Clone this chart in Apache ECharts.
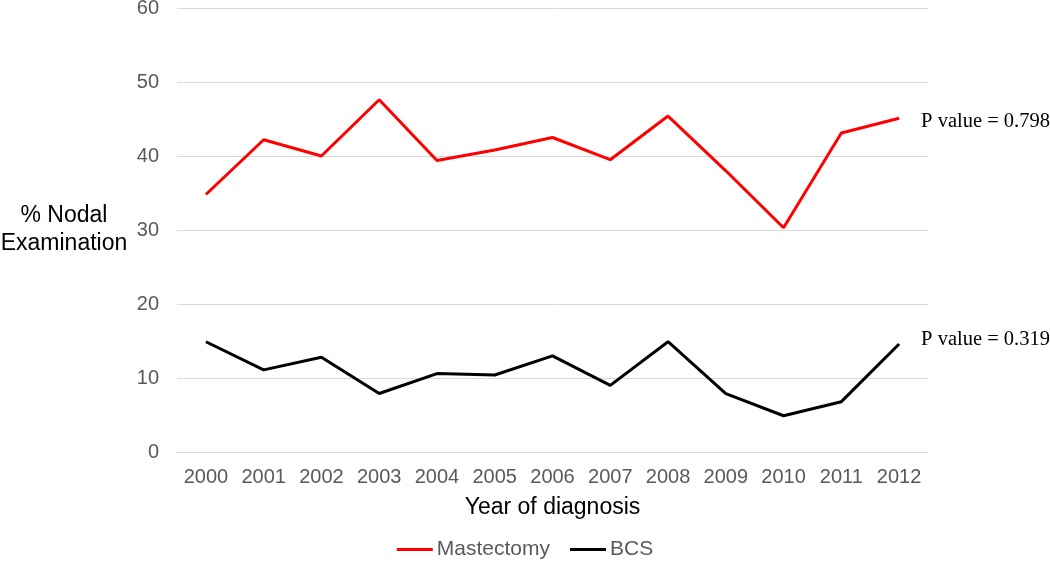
<!DOCTYPE html>
<html>
<head>
<meta charset="utf-8">
<script src="https://cdn.jsdelivr.net/npm/echarts@6/dist/echarts.min.js"></script>
<style>html,body{margin:0;padding:0;background:#fff;}#c{width:1050px;height:565px;}</style>
</head>
<body>
<div id="c"></div>
<script>
const years = ['2000','2001','2002','2003','2004','2005','2006','2007','2008','2009','2010','2011','2012'];
const mastectomy = [34.8, 42.2, 40.0, 47.6, 39.4, 40.8, 42.5, 39.5, 45.4, 38.0, 30.3, 43.1, 45.1];
const bcs = [14.9, 11.1, 12.8, 7.9, 10.6, 10.4, 13.0, 9.0, 14.9, 7.9, 4.9, 6.8, 14.6];
const pValues = ['P value = 0.798', 'P value = 0.319'];
const yTicks = {min: 0, max: 60, interval: 10};

const chart = echarts.init(document.getElementById('c'));
const endLabel = (txt, dy) => ({
  show: true, formatter: txt, distance: 22, offset: [0, dy],
  fontFamily: 'Liberation Serif', fontSize: 20.5, color: '#000'
});
chart.setOption({
  animation: false,
  grid: {left: 177, right: 122, top: 8, bottom: 113, outerBoundsMode: 'none', containLabel: false},
  legend: {
    bottom: 0, left: 'center',
    itemWidth: 36, itemHeight: 3, itemGap: 20,
    textStyle: {fontFamily: 'Liberation Sans', fontSize: 21, color: '#595959', padding: [0,0,0,-1]},
    data: [{name: 'Mastectomy', icon: 'rect'}, {name: 'BCS', icon: 'rect'}]
  },
  xAxis: {
    type: 'category', data: years, boundaryGap: true,
    name: 'Year of diagnosis', nameLocation: 'middle', nameGap: 44,
    nameTextStyle: {fontFamily: 'Liberation Sans', fontSize: 23, color: '#000'},
    axisLine: {lineStyle: {color: '#D9D9D9', width: 1}},
    axisTick: {show: false},
    axisLabel: {interval: 0, fontFamily: 'Liberation Sans', fontSize: 20, color: '#595959', margin: 15}
  },
  yAxis: {
    type: 'value', min: yTicks.min, max: yTicks.max, interval: yTicks.interval,
    name: '% Nodal\nExamination', nameLocation: 'middle', nameRotate: 0, nameGap: 113,
    nameTextStyle: {fontFamily: 'Liberation Sans', fontSize: 23, color: '#000', align: 'center', lineHeight: 28},
    axisLine: {show: false}, axisTick: {show: false},
    splitLine: {lineStyle: {color: '#D9D9D9', width: 1}},
    axisLabel: {fontFamily: 'Liberation Sans', fontSize: 20, color: '#595959', margin: 18}
  },
  series: [
    {name: 'Mastectomy', type: 'line', data: mastectomy, symbol: 'none',
     lineStyle: {color: '#FF0000', width: 3}, itemStyle: {color: '#FF0000'},
     endLabel: endLabel(pValues[0], 3)},
    {name: 'BCS', type: 'line', data: bcs, symbol: 'none',
     lineStyle: {color: '#000000', width: 3}, itemStyle: {color: '#000000'},
     endLabel: endLabel(pValues[1], -4)}
  ]
});
</script>
</body>
</html>
